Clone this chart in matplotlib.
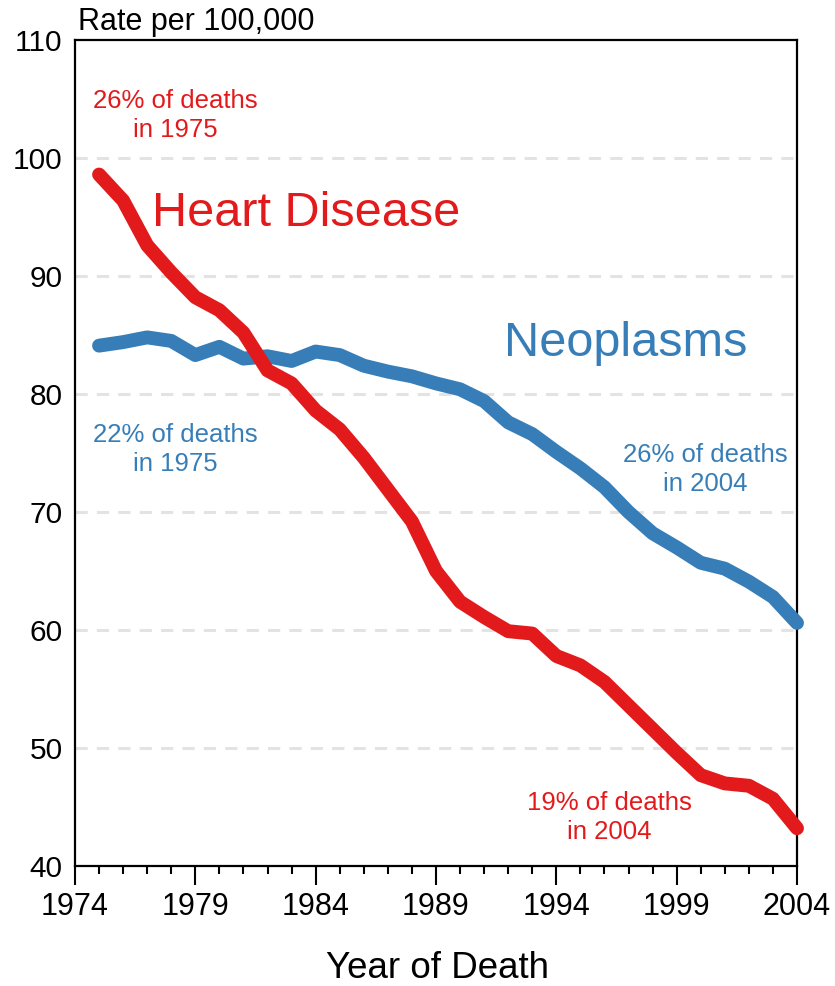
import matplotlib
matplotlib.use("Agg")
import matplotlib.pyplot as plt
from matplotlib.ticker import MultipleLocator

# data (rate per 100,000)
years = list(range(1975, 2005))
heart = [98.6, 96.4, 92.6, 90.3, 88.2, 87.1, 85.2, 82.0, 80.9, 78.6,
         77.0, 74.6, 71.9, 69.2, 65.0, 62.4, 61.1, 59.9, 59.7, 57.8,
         57.0, 55.6, 53.6, 51.6, 49.6, 47.7, 47.0, 46.8, 45.7, 43.2]
neoplasms = [84.1, 84.4, 84.8, 84.5, 83.3, 84.0, 83.0, 83.2, 82.8, 83.6,
             83.3, 82.4, 81.9, 81.5, 80.9, 80.4, 79.4, 77.6, 76.6, 75.1,
             73.7, 72.1, 70.0, 68.2, 67.0, 65.7, 65.2, 64.1, 62.8, 60.6]
xticks = [1974, 1979, 1984, 1989, 1994, 1999, 2004]
yticks = [40, 50, 60, 70, 80, 90, 100, 110]

RED = "#E31A1C"
BLUE = "#377EB8"

plt.rcParams["font.family"] = ["Liberation Sans", "DejaVu Sans"]

fig = plt.figure(figsize=(8.35, 9.86), dpi=100)
ax = fig.add_axes([0.0898, 0.1217, 0.8647, 0.8377])

# dashed light grid
for y in yticks[1:-1]:
    ax.axhline(y, color="#e3e3e3", lw=2.2, ls=(0, (4, 3)), zorder=1)

ax.plot(years, neoplasms, color=BLUE, lw=10, solid_capstyle="round",
        solid_joinstyle="round", clip_on=False, zorder=3)
ax.plot(years, heart, color=RED, lw=10, solid_capstyle="round",
        solid_joinstyle="round", clip_on=False, zorder=4)

ax.set_xlim(1974, 2004)
ax.set_ylim(40, 110)
ax.set_xticks(xticks)
ax.xaxis.set_minor_locator(MultipleLocator(1))
ax.set_yticks(yticks)
ax.tick_params(axis="x", which="major", length=13.5, width=1.5, direction="out",
               pad=5, labelsize=22)
ax.tick_params(axis="x", which="minor", length=6, width=1.5, direction="out")
ax.tick_params(axis="y", length=0, pad=9, labelsize=21.5)
for s in ax.spines.values():
    s.set_linewidth(1.6)

fig.text(0.524, 0.008, "Year of Death", fontsize=26.5, ha="center", va="baseline")
fig.text(0.093, 0.9696, "Rate per 100,000", fontsize=22, ha="left", va="baseline")

# series labels
ax.text(1977.2, 95.3, "Heart Disease", color=RED, fontsize=35, va="center")
ax.text(1996.9, 84.3, "Neoplasms", color=BLUE, fontsize=35, ha="center", va="center")

note = dict(fontsize=18.5, ha="center", va="center", linespacing=1.3)
ax.text(1978.15, 103.6, "26% of deaths\nin 1975", color=RED, **note)
ax.text(1978.15, 75.3, "22% of deaths\nin 1975", color=BLUE, **note)
ax.text(2000.2, 73.6, "26% of deaths\nin 2004", color=BLUE, **note)
ax.text(1996.2, 44.1, "19% of deaths\nin 2004", color=RED, **note)

fig.savefig("out.png", dpi=100)
